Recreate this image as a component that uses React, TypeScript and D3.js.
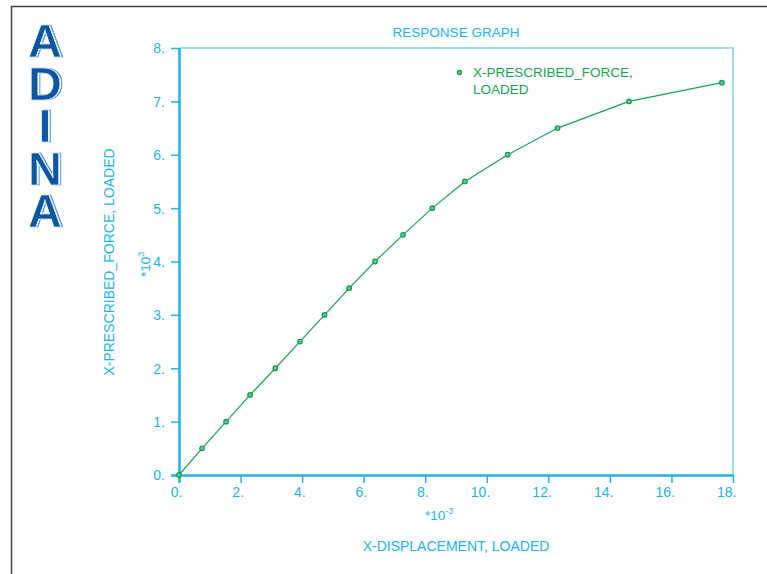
import * as d3 from 'd3';
import React, { useEffect, useRef } from 'react';

// data (x in 1e-3, force in 1e3)
const dispValues = [0, 0.75, 1.53, 2.31, 3.13, 3.93, 4.73, 5.53, 6.37, 7.28, 8.23, 9.29, 10.68, 12.3, 14.62, 17.64];
const forceValues = [0, 0.5, 1.0, 1.5, 2.0, 2.5, 3.0, 3.5, 4.0, 4.5, 5.0, 5.5, 6.0, 6.5, 7.0, 7.35];
const xTicks = [0, 2, 4, 6, 8, 10, 12, 14, 16, 18];
const yTicks = [0, 1, 2, 3, 4, 5, 6, 7, 8];
const logoLetters = ['A', 'D', 'I', 'N', 'A'];

const App = () => {
    const ref = useRef<SVGSVGElement>(null);

    useEffect(() => {
        const svg = d3.select(ref.current);
        svg.selectAll('*').remove();

        const blue = '#22b2e9';
        const green = '#17a353';
        const font = 'Liberation Sans, Arial, sans-serif';

        const margin = { top: 48, right: 34, bottom: 99, left: 179 },
            width = 767 - margin.left - margin.right,
            height = 574 - margin.top - margin.bottom;

        // offset outline for the logo letters
        const f = svg.append('defs').append('filter').attr('id', 'logoEdge')
            .attr('x', '-20%').attr('y', '-20%').attr('width', '140%').attr('height', '140%');
        f.append('feOffset').attr('in', 'SourceAlpha').attr('dx', 2).attr('dy', 0).attr('result', 'off');
        f.append('feMorphology').attr('in', 'off').attr('operator', 'erode').attr('radius', 0.8).attr('result', 'er');
        f.append('feComposite').attr('in', 'off').attr('in2', 'er').attr('operator', 'out').attr('result', 'ring');
        f.append('feFlood').attr('flood-color', '#4f95d6').attr('result', 'col');
        f.append('feComposite').attr('in', 'col').attr('in2', 'ring').attr('operator', 'in').attr('result', 'edge');
        const fm = f.append('feMerge');
        fm.append('feMergeNode').attr('in', 'edge');
        fm.append('feMergeNode').attr('in', 'SourceGraphic');

        // outer frame
        svg.append('path')
            .attr('d', 'M11.5,574 L11.5,6.5 L767,6.5')
            .attr('fill', 'none')
            .attr('stroke', '#444')
            .attr('stroke-width', 1.5);

        // ADINA logo
        const logo = svg.append('g').attr('font-family', font)
            .attr('font-weight', 'bold').attr('font-size', 47).attr('text-anchor', 'middle');
        logoLetters.forEach((l, i) => {
            logo.append('text').attr('x', 45).attr('y', 57 + i * 42.5).text(l)
                .attr('fill', '#0b57a4')
                .attr('stroke', '#ffffff').attr('stroke-width', 0.7)
                .attr('filter', 'url(#logoEdge)');
        });

        const x = d3.scaleLinear().domain([0, 18]).range([0, width]);
        const y = d3.scaleLinear().domain([0, 8]).range([height, 0]);

        const g = svg.append('g')
            .attr('transform', `translate(${margin.left},${margin.top})`);

        // plot frame (top/right)
        g.append('path')
            .attr('d', `M0,0 L${width},0 L${width},${height}`)
            .attr('fill', 'none')
            .attr('stroke', '#7fd2f3')
            .attr('stroke-width', 1.5);

        // x axis
        const xa = g.append('g').attr('transform', `translate(0,${height})`)
            .call(d3.axisBottom(x).tickValues(xTicks).tickSize(8).tickSizeOuter(0)
                .tickFormat(d => `${d}.`));
        xa.attr('font-size', 14).attr('font-family', font);
        xa.select('.domain').attr('d', `M-8,0.5 H${width}`).attr('stroke', blue).attr('stroke-width', 2.5);
        xa.selectAll('.tick line').attr('stroke', blue).attr('stroke-width', 1.5);
        xa.selectAll('.tick text').attr('fill', blue)
            .attr('text-anchor', 'end').attr('x', 3).attr('y', 22).attr('dy', null);

        // y axis
        const ya = g.append('g')
            .call(d3.axisLeft(y).tickValues(yTicks).tickSize(8).tickSizeOuter(0)
                .tickFormat(d => `${d}.`));
        ya.attr('font-size', 14).attr('font-family', font);
        ya.select('.domain').attr('d', `M0.5,0 V${height + 8}`).attr('stroke', blue).attr('stroke-width', 2.5);
        ya.selectAll('.tick line').attr('stroke', blue).attr('stroke-width', 1.5);
        ya.selectAll('.tick text').attr('fill', blue).attr('x', -14).attr('dy', '0.35em');

        // curve
        const pts = dispValues.map((d, i) => [d, forceValues[i]] as [number, number]);
        g.append('path')
            .datum(pts)
            .attr('fill', 'none')
            .attr('stroke', green)
            .attr('stroke-width', 1.2)
            .attr('d', d3.line().x(d => x(d[0])).y(d => y(d[1])));

        g.selectAll('circle.pt')
            .data(pts)
            .enter()
            .append('circle')
            .attr('class', 'pt')
            .attr('cx', d => x(d[0]))
            .attr('cy', d => y(d[1]))
            .attr('r', 2.3)
            .attr('fill', '#6cc691')
            .attr('stroke', '#0f9a4a')
            .attr('stroke-width', 1.2);

        // legend
        svg.append('circle').attr('cx', 459.5).attr('cy', 72.5).attr('r', 2.1)
            .attr('fill', '#6cc691').attr('stroke', '#0f9a4a').attr('stroke-width', 1.2);
        const leg = svg.append('text').attr('font-family', font).attr('font-size', 13.5).attr('fill', green);
        leg.append('tspan').attr('x', 473).attr('y', 77).text('X-PRESCRIBED_FORCE,');
        leg.append('tspan').attr('x', 473).attr('y', 94).text('LOADED');

        // titles
        svg.append('text').attr('x', 456).attr('y', 37).attr('text-anchor', 'middle')
            .attr('font-family', font).attr('font-size', 13.5).attr('fill', blue).text('RESPONSE GRAPH');

        svg.append('text').attr('x', 456).attr('y', 551).attr('text-anchor', 'middle')
            .attr('font-family', font).attr('font-size', 14).attr('fill', blue).text('X-DISPLACEMENT, LOADED');

        const xm = svg.append('text').attr('x', 425).attr('y', 520)
            .attr('font-family', font).attr('font-size', 13.5).attr('fill', blue);
        xm.append('tspan').text('*10');
        xm.append('tspan').attr('dy', -6).attr('font-size', 9).text('-3');

        svg.append('text').attr('transform', 'translate(114,262) rotate(-90)').attr('text-anchor', 'middle')
            .attr('font-family', font).attr('font-size', 14).attr('fill', blue).text('X-PRESCRIBED_FORCE, LOADED');

        const ym = svg.append('text').attr('transform', 'translate(150,277) rotate(-90)')
            .attr('font-family', font).attr('font-size', 13.5).attr('fill', blue);
        ym.append('tspan').text('*10');
        ym.append('tspan').attr('dy', -6).attr('font-size', 9).text('3');
    }, []);

    return (
        <svg ref={ref} width={767} height={574}
            style={{ position: 'fixed', left: 0, top: 0, background: '#fff' }} />
    );
};

export default App;
